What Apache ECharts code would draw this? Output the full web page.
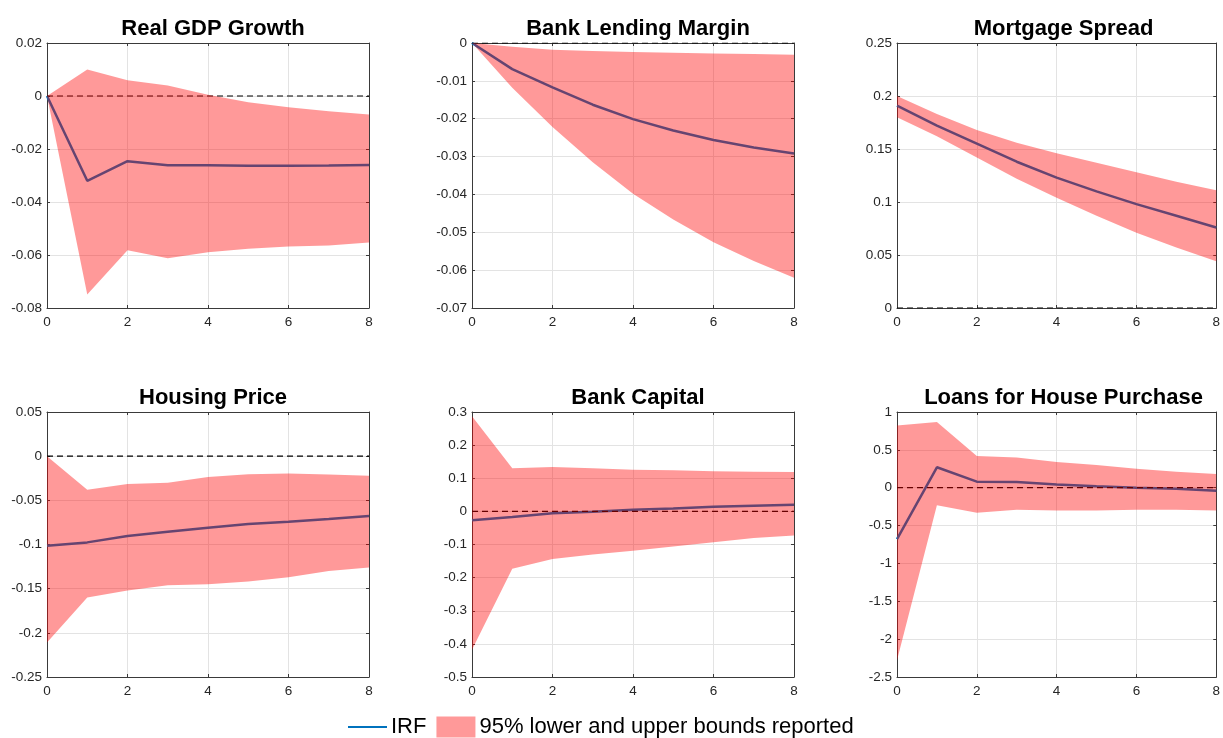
<!DOCTYPE html>
<html>
<head>
<meta charset="utf-8">
<script src="https://cdn.jsdelivr.net/npm/echarts@6/dist/echarts.min.js"></script>
<style>
html,body{margin:0;padding:0;background:#fff;}
#chart{width:1223px;height:738px;}
</style>
</head>
<body>
<div id="chart"></div>
<script>
// ---- data ----
const horizons = [0, 1, 2, 3, 4, 5, 6, 7, 8];
const xTicks = [0, 2, 4, 6, 8];

const titles = ['Real GDP Growth', 'Bank Lending Margin', 'Mortgage Spread',
                'Housing Price', 'Bank Capital', 'Loans for House Purchase'];

const gdpIRF   = [0, -0.032, -0.0246, -0.0261, -0.0261, -0.0263, -0.0263, -0.0262, -0.026];
const gdpLower = [0, -0.0749, -0.0582, -0.0612, -0.059, -0.0576, -0.0568, -0.0564, -0.0553];
const gdpUpper = [0, 0.010, 0.0059, 0.004, 0.0005, -0.0024, -0.0042, -0.0058, -0.007];

const marginIRF   = [0, -0.0069, -0.0117, -0.0163, -0.0201, -0.0231, -0.0256, -0.0276, -0.0292];
const marginLower = [0, -0.0118, -0.0222, -0.0315, -0.0398, -0.0466, -0.0526, -0.0576, -0.0620];
const marginUpper = [0, -0.0010, -0.0018, -0.0021, -0.0024, -0.0026, -0.0028, -0.0029, -0.0031];

const spreadIRF   = [0.191, 0.172, 0.155, 0.138, 0.123, 0.110, 0.098, 0.087, 0.076];
const spreadLower = [0.180, 0.162, 0.142, 0.122, 0.104, 0.087, 0.071, 0.057, 0.044];
const spreadUpper = [0.200, 0.183, 0.168, 0.156, 0.146, 0.137, 0.128, 0.119, 0.111];

const houseIRF   = [-0.1014, -0.0976, -0.0904, -0.0855, -0.081, -0.0768, -0.0742, -0.0711, -0.0677];
const houseLower = [-0.211, -0.160, -0.152, -0.146, -0.145, -0.142, -0.137, -0.130, -0.126];
const houseUpper = [0, -0.038, -0.0314, -0.030, -0.0235, -0.0204, -0.0197, -0.0208, -0.0223];

const capitalIRF   = [-0.027, -0.017, -0.006, -0.001, 0.005, 0.009, 0.014, 0.017, 0.020];
const capitalLower = [-0.418, -0.173, -0.144, -0.130, -0.119, -0.106, -0.093, -0.080, -0.073];
const capitalUpper = [0.287, 0.130, 0.134, 0.130, 0.126, 0.124, 0.121, 0.120, 0.119];

const loansIRF   = [-0.68, 0.27, 0.08, 0.077, 0.042, 0.02, 0.0, -0.015, -0.04];
const loansLower = [-2.28, -0.23, -0.33, -0.29, -0.30, -0.30, -0.29, -0.29, -0.30];
const loansUpper = [0.823, 0.867, 0.42, 0.40, 0.34, 0.30, 0.25, 0.21, 0.18];

const yMin      = [-0.08, -0.07, 0, -0.25, -0.5, -2.5];
const yMax      = [0.02, 0, 0.25, 0.05, 0.3, 1];
const yInterval = [0.02, 0.01, 0.05, 0.05, 0.1, 0.5];

const irfName  = 'IRF';
const bandName = '95% lower and upper bounds reported';

// ---- build ----
const panels = [
  [gdpIRF, gdpLower, gdpUpper],
  [marginIRF, marginLower, marginUpper],
  [spreadIRF, spreadLower, spreadUpper],
  [houseIRF, houseLower, houseUpper],
  [capitalIRF, capitalLower, capitalUpper],
  [loansIRF, loansLower, loansUpper]
];

const FONT = "'Liberation Sans', Arial, Helvetica, sans-serif";
const gridLefts = [47, 472, 897];
const gridWidths = [322, 322, 323];
const gridTops = [43, 412];
const gridHeight = 265;

const grids = [], xAxes = [], yAxes = [], series = [], titleArr = [];
const axisColor = '#3a3a3a';
const labelColor = '#262626';

panels.forEach((p, k) => {
  const col = k % 3, row = Math.floor(k / 3);
  grids.push({left: gridLefts[col], top: gridTops[row], width: gridWidths[col], height: gridHeight, containLabel: false});
  titleArr.push({
    text: titles[k], left: gridLefts[col] + gridWidths[col] / 2, top: row === 0 ? 13 : 382,
    textAlign: 'center',
    textStyle: {fontFamily: FONT, fontSize: 22, fontWeight: 'bold', color: '#000'}
  });
  const xb = {
    type: 'value', gridIndex: k, min: 0, max: 8, interval: 2,
    axisLine: {show: true, onZero: false, lineStyle: {color: axisColor, width: 1}},
    axisTick: {show: true, inside: true, length: 3, lineStyle: {color: axisColor}},
    splitLine: {show: false}
  };
  xAxes.push(Object.assign({}, xb, {
    position: 'bottom',
    axisLabel: {show: true, fontFamily: FONT, fontSize: 13.5, color: labelColor, margin: 7},
    splitLine: {show: true, lineStyle: {color: '#e3e3e3', width: 1}}
  }));
  xAxes.push(Object.assign({}, xb, {position: 'top', axisLabel: {show: false}}));
  const yb = {
    type: 'value', gridIndex: k, min: yMin[k], max: yMax[k], interval: yInterval[k],
    axisLine: {show: true, onZero: false, lineStyle: {color: axisColor, width: 1}},
    axisTick: {show: true, inside: true, length: 3, lineStyle: {color: axisColor}},
    splitLine: {show: false}
  };
  yAxes.push(Object.assign({}, yb, {
    position: 'left',
    axisLabel: {show: true, fontFamily: FONT, fontSize: 13.5, color: labelColor, margin: 5},
    splitLine: {show: true, lineStyle: {color: '#e3e3e3', width: 1}}
  }));
  yAxes.push(Object.assign({}, yb, {position: 'right', axisLabel: {show: false}}));

  const irf = p[0], lower = p[1], upper = p[2];
  const xi = 2 * k, yi = 2 * k;

  series.push({
    name: irfName, type: 'line', xAxisIndex: xi, yAxisIndex: yi,
    data: horizons.map((h, i) => [h, irf[i]]),
    showSymbol: false, symbol: 'none', z: 2,
    lineStyle: {color: '#0072BD', width: 2.5},
    itemStyle: {color: '#0072BD'},
    silent: true, animation: false
  });
  series.push({
    name: 'zero', type: 'line', xAxisIndex: xi, yAxisIndex: yi,
    data: [[horizons[0], 0], [horizons[horizons.length - 1], 0]],
    showSymbol: false, symbol: 'none', z: 2,
    lineStyle: {color: '#000', width: 1.2, type: [6, 4]},
    silent: true, animation: false
  });
  series.push({
    name: bandName, type: 'custom', xAxisIndex: xi, yAxisIndex: yi, z: 3,
    data: horizons.map((h, i) => [h, lower[i], upper[i]]),
    encode: {x: 0, y: [1, 2]},
    itemStyle: {color: 'rgba(255,0,0,0.4)'},
    silent: true, animation: false,
    renderItem: function (params, api) {
      if (params.dataIndex !== 0) return null;
      const pts = [];
      for (let i = 0; i < horizons.length; i++) pts.push(api.coord([horizons[i], upper[i]]));
      for (let i = horizons.length - 1; i >= 0; i--) pts.push(api.coord([horizons[i], lower[i]]));
      return {type: 'polygon', shape: {points: pts}, style: {fill: 'rgba(255,0,0,0.4)'}};
    }
  });
});

const chart = echarts.init(document.getElementById('chart'), null, {renderer: 'canvas'});
chart.setOption({
  backgroundColor: '#fff',
  animation: false,
  title: titleArr,
  grid: grids,
  xAxis: xAxes,
  yAxis: yAxes,
  legend: {
    left: 343, top: 711, itemWidth: 39, itemHeight: 21, itemGap: 10,
    textStyle: {fontFamily: FONT, fontSize: 22, color: '#000', padding: [0, 0, 0, -1]},
    data: [
      {name: irfName, icon: 'path://M0,0H40V2H0Z'},
      {name: bandName, icon: 'rect'}
    ],
    selectedMode: false
  },
  series: series
});
</script>
</body>
</html>
